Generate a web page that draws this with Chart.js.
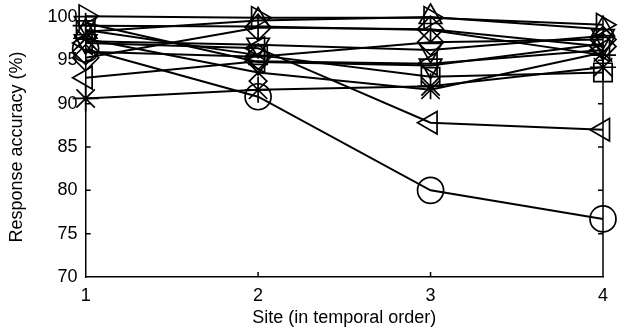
<!DOCTYPE html>
<html>
<head>
<meta charset="utf-8">
<script src="https://cdn.jsdelivr.net/npm/chart.js@4/dist/chart.umd.min.js"></script>
<style>
  html, body { margin: 0; padding: 0; background: #fff; }
  #wrap { width: 621px; height: 327px; }
</style>
</head>
<body>
<div id="wrap"><canvas id="accChart"></canvas></div>
<script>
// Sites on the x axis
const sites = [1, 2, 3, 4];
const yTicks = [70, 75, 80, 85, 90, 95, 100];

// Response accuracy (%) per participant
const sCircle    = [96.3, 90.8, 80.0, 76.7];
const sLeftTri   = [97.0, 96.4, 87.8, 87.0];
const sRightTri  = [100.1, 99.9, 99.9, 99.1];
const sUpTri     = [98.3, 99.6, 100.0, 98.6];
const sDownTri   = [97.2, 96.8, 96.2, 97.8];
const sSquare    = [98.5, 95.6, 93.1, 93.6];
const sDiamond   = [95.3, 98.8, 98.6, 96.6];
const sPlus      = [99.0, 98.9, 98.5, 95.6];
const sCross     = [97.5, 93.6, 91.6, 95.9];
const sStar      = [90.6, 91.6, 92.0, 94.2];
const sLeftTri2  = [93.0, 94.9, 94.6, 96.2];
const sDiamond2  = [96.0, 95.4, 97.1, 97.4];
const sDownTri2  = [99.3, 94.8, 94.4, 96.9];

function series(vals, style, rot) {
    return {
        data: vals.map((v, i) => ({ x: sites[i], y: v })),
        borderColor: '#000',
        borderWidth: 2,
        pointStyle: style,
        pointRotation: rot || 0,
        pointRadius: 13,
        pointHoverRadius: 13,
        pointBorderWidth: 1.7,
        pointBackgroundColor: 'rgba(0,0,0,0)',
        pointBorderColor: '#000',
        clip: false,
        tension: 0
    };
}

// right spine and the small inward tick marks
const frame = {
    id: 'frame',
    afterDraw(chart) {
        const { ctx, chartArea: a, scales } = chart;
        ctx.save();
        ctx.strokeStyle = '#000';
        ctx.lineWidth = 1.5;
        ctx.beginPath();
        ctx.moveTo(a.right, a.top);
        ctx.lineTo(a.right, a.bottom);
        [75, 80, 85, 90, 95].forEach(v => {
            const y = scales.y.getPixelForValue(v);
            ctx.moveTo(a.left, y); ctx.lineTo(a.left + 5, y);
            ctx.moveTo(a.right, y); ctx.lineTo(a.right - 5, y);
        });
        [2, 3].forEach(v => {
            const x = scales.x.getPixelForValue(v);
            ctx.moveTo(x, a.bottom); ctx.lineTo(x, a.bottom - 5);
        });
        ctx.stroke();
        ctx.restore();
    }
};

Chart.defaults.font.family = '"Liberation Sans", Arial, sans-serif';
Chart.defaults.color = '#000';

new Chart(document.getElementById('accChart'), {
    type: 'line',
    data: {
        datasets: [
            series(sCircle, 'circle'),
            series(sLeftTri, 'triangle', 270),
            series(sRightTri, 'triangle', 90),
            series(sUpTri, 'triangle'),
            series(sDownTri, 'triangle', 180),
            series(sSquare, 'rect'),
            series(sDiamond, 'rectRot'),
            series(sPlus, 'cross'),
            series(sCross, 'crossRot'),
            series(sStar, 'star'),
            series(sLeftTri2, 'triangle', 270),
            series(sDiamond2, 'rectRot'),
            series(sDownTri2, 'triangle', 180)
        ]
    },
    options: {
        responsive: true,
        maintainAspectRatio: false,
        animation: false,
        layout: { padding: { top: 10, right: 18, left: 6, bottom: 0 } },
        plugins: { legend: { display: false }, tooltip: { enabled: false } },
        scales: {
            x: {
                type: 'linear',
                min: 1,
                max: 4,
                grid: { display: false, drawTicks: false },
                border: { color: '#000', width: 1.5 },
                afterBuildTicks: s => { s.ticks = sites.map(v => ({ value: v })); },
                ticks: { font: { size: 18, lineHeight: 1 }, padding: 10 },
                title: { display: true, text: 'Site (in temporal order)', font: { size: 18, lineHeight: 1 }, padding: { top: -6, bottom: 0 } }
            },
            y: {
                min: 70,
                max: 100,
                grid: { display: false, drawTicks: false },
                border: { color: '#000', width: 1.5 },
                afterBuildTicks: s => { s.ticks = yTicks.map(v => ({ value: v })); },
                ticks: { font: { size: 18, lineHeight: 1 }, padding: 8 },
                title: { display: true, text: 'Response accuracy (%)', font: { size: 18 }, padding: { top: 0, bottom: 12 } }
            }
        }
    },
    plugins: [frame]
});
</script>
</body>
</html>
